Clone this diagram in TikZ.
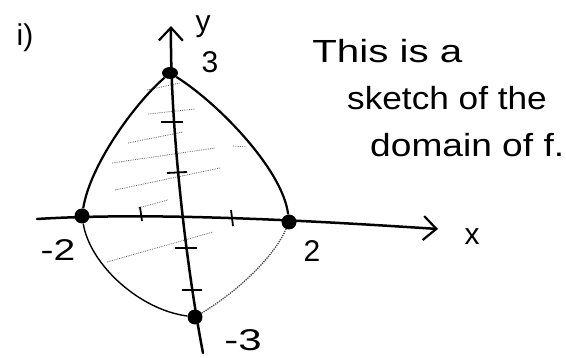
\documentclass[tikz,border=0pt]{standalone}
\usepackage{fontspec}
\setmainfont{Liberation Sans}
\usetikzlibrary{arrows.meta,shapes.geometric}
\begin{document}
\begin{tikzpicture}[x=1pt,y=-1pt,
  dot/.style={circle,fill=black,inner sep=0pt,minimum size=15pt},
  topdot/.style={ellipse,fill=black,inner sep=0pt,minimum width=16pt,minimum height=12pt},
  axis/.style={line width=2.5pt, line cap=round, line join=round},
  bound/.style={line width=2.2pt},
  thinbound/.style={line width=1.4pt},
  openbound/.style={line width=1.3pt, densely dotted, black!70},
  hatch/.style={line width=0.8pt, densely dotted, black!60},
  tickmark/.style={line width=1.8pt},
  lab/.style={font=\fontsize{30}{34}\selectfont, inner sep=0pt},
  note/.style={font=\fontsize{32}{36}\selectfont, inner sep=0pt, anchor=base west},
  tip/.style={-{Straight Barb[length=13pt,width=24pt,line width=2.2pt]}}
]
\useasboundingbox (0,0) rectangle (566,358);
\fill[white] (0,0) rectangle (566,358);

% hatching
\draw[hatch] (147,90) -- (180,83);
\draw[hatch] (148,114) -- (195,109);
\draw[hatch] (128,143) -- (183,132);
\draw[hatch] (112,163) -- (215,148);
\draw[hatch] (233,146) -- (247,147);
\draw[hatch] (115,190) -- (220,168);
\draw[hatch] (138,208) -- (168,200);
\draw[hatch] (107,262) -- (213,232);

% axis end points
\coordinate (yb) at (203,353);
\coordinate (yt) at (171,26);
\coordinate (xl) at (37,219);
\coordinate (xr) at (438,229);

% axes
\draw[axis,tip] (yb) .. controls (186,265) and (170,125) .. (yt);
\draw[axis,tip] (xl) .. controls (150,212) and (300,220) .. (xr);

% ticks
\draw[tickmark] (161,122) -- (183,122);
\draw[tickmark] (167,173) -- (187,172);
\draw[tickmark] (175,248) -- (197,248);
\draw[tickmark] (182,290) -- (202,290);
\draw[tickmark] (140,207) -- (142,221);
\draw[tickmark] (231,210) -- (233,226);

% vertices
\node[topdot] (top) at (170,73) {};
\node[dot] (left) at (82,216) {};
\node[dot] (right) at (289,222) {};
\node[dot] (bot) at (195,317) {};

% boundary
\draw[bound] (top) .. controls (135,103) and (90,165) .. (left);
\draw[bound] (top) .. controls (218,103) and (283,170) .. (right);
\draw[thinbound] (left) .. controls (90,265) and (140,310) .. (bot);
\draw[openbound] (bot) .. controls (240,290) and (275,255) .. (right);

% labels
\node[lab] (li) at (25,38) {i)};
\node[lab] (ly) at (203,27) {y};
\node[lab] (l3) at (210,62) {3};
\node[lab, xscale=1.3] (lm2) at (58,250) {-2};
\node[lab] (l2) at (312,251) {2};
\node[lab] (lx) at (472,237) {x};
\node[lab, xscale=1.4] (lm3) at (243,340) {-3};

% note
\node[note, xscale=1.26] (t1) at (312,63) {This is a};
\node[note, xscale=1.1] (t2) at (347,110) {sketch of the};
\node[note, xscale=1.16] (t3) at (370,157) {domain of f.};
\end{tikzpicture}
\end{document}
